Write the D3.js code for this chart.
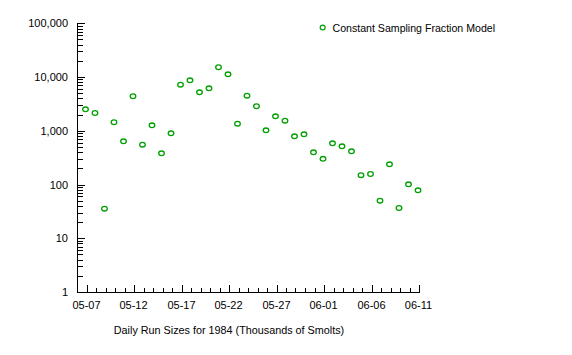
<!DOCTYPE html>
<html><head><meta charset="utf-8">
<script src="https://cdn.jsdelivr.net/npm/d3@7/dist/d3.min.js"></script>
<style>body{margin:0;background:#fff}svg{display:block}text{font-family:"Liberation Sans",Arial,sans-serif;font-size:11px;fill:#000}</style>
</head><body><svg id="c" width="572" height="355"></svg>
<script>
const dates = ["05-07","05-08","05-09","05-10","05-11","05-12","05-13","05-14","05-15","05-16","05-17","05-18","05-19","05-20","05-21","05-22","05-23","05-24","05-25","05-26","05-27","05-28","05-29","05-30","05-31","06-01","06-02","06-03","06-04","06-05","06-06","06-07","06-08","06-09","06-10","06-11"];
const runSizes = [2510,2140,35.5,1440,637,4390,551,1265,381,898,7200,8700,5200,6170,15200,11250,1355,4500,2860,1020,1860,1540,790,860,398,301,585,514,415,149,157,50,238,36.6,101,78];
const xTickLabels = ["05-07","05-12","05-17","05-22","05-27","06-01","06-06","06-11"];
const yTickValues = [1,10,100,1000,10000,100000];
const seriesName = "Constant Sampling Fraction Model";
const xTitle = "Daily Run Sizes for 1984 (Thousands of Smolts)";

const svg = d3.select("#c");
const parse = s => new Date(1984, +s.slice(0,2)-1, +s.slice(3));
const x = d3.scaleTime().domain([new Date(1984,4,6), new Date(1984,5,11)]).range([77, 419]);
const y = d3.scaleLog().domain([1, 100000]).range([292, 23.3]);
const green = "#00a000";

// axes lines
const g = svg.append("g").attr("shape-rendering","crispEdges").attr("stroke","#000");
g.append("line").attr("x1",77).attr("x2",77).attr("y1",y(100000)).attr("y2",292.5);
g.append("line").attr("x1",76.5).attr("x2",419.5).attr("y1",292.5).attr("y2",292.5);

// y ticks
const yMinor = [];
for (let e=0;e<5;e++) for (let k=2;k<=9;k++) yMinor.push(k*Math.pow(10,e));
yMinor.forEach(v=>{ const yy=Math.round(y(v))+0.5; g.append("line").attr("x1",77).attr("x2",83).attr("y1",yy).attr("y2",yy); });
yTickValues.forEach(v=>{ const yy=Math.round(y(v))+0.5; g.append("line").attr("x1",77).attr("x2",85).attr("y1",yy).attr("y2",yy);
  svg.append("text").attr("x",68).attr("y",yy).attr("dy","0.35em").attr("text-anchor","end").text(d3.format(",")(v)); });

// x ticks
const days = d3.timeDay.range(new Date(1984,4,7), new Date(1984,5,12));
days.forEach(d=>{ const xx=Math.round(x(d))+0.5; g.append("line").attr("x1",xx).attr("x2",xx).attr("y1",292.5).attr("y2",288); });
xTickLabels.forEach(s=>{ const xx=Math.round(x(parse(s)))+0.5;
  g.append("line").attr("x1",xx).attr("x2",xx).attr("y1",292.5).attr("y2",285);
  svg.append("text").attr("x",xx-1).attr("y",309).attr("text-anchor","middle").text(s); });

// points
svg.append("g").selectAll("ellipse").data(runSizes).join("ellipse")
  .attr("cx",(d,i)=>x(parse(dates[i]))-1).attr("cy",d=>y(d))
  .attr("rx",2.8).attr("ry",2.3).attr("fill","none").attr("stroke",green).attr("stroke-width",1.3);

// legend
svg.append("ellipse").attr("cx",322.7).attr("cy",27.5).attr("rx",2.5).attr("ry",2.3).attr("fill","none").attr("stroke",green).attr("stroke-width",1.2);
svg.append("text").attr("x",332.5).attr("y",31.5).style("font-size","10.6px").text(seriesName);

// x title
svg.append("text").attr("x",229).attr("y",334).attr("text-anchor","middle").style("font-size","10.8px").text(xTitle);
</script></body></html>
